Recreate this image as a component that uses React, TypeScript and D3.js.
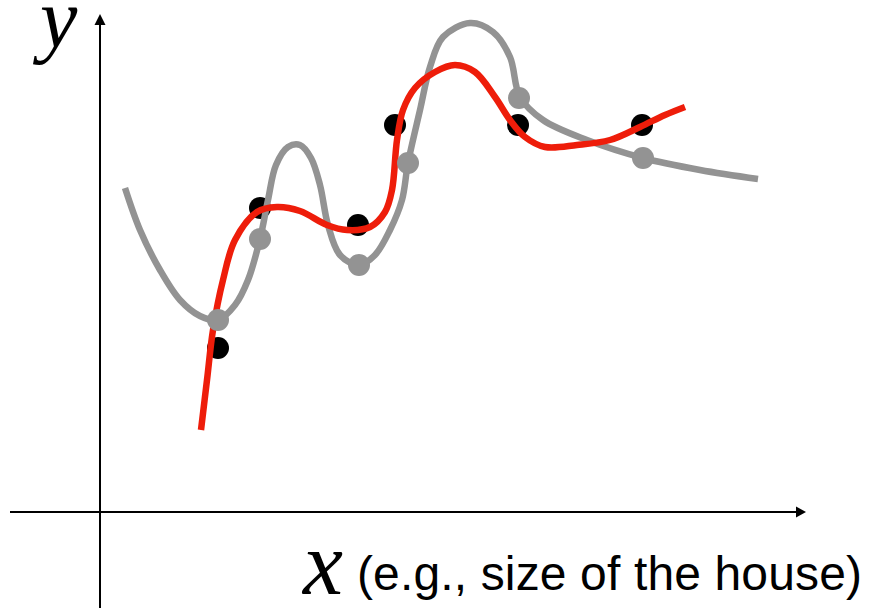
import { useEffect, useRef } from "react";
import * as d3 from "d3";

// values are in "picture units": x measured from the y axis, y measured up from the x axis
const dataX = [118, 160, 258, 295, 418, 542];
const dataY = [164, 304, 287, 387, 387, 387];

const fitX = [118, 160, 259, 308, 419, 543];
const fitY = [192, 273, 247, 349, 414, 354];

const smoothX = [101, 107, 113, 123, 135, 157, 177, 200, 227, 247, 270, 285, 292, 297, 303, 315, 335, 355, 375, 395, 410, 425, 445, 477, 510, 540, 565, 585];
const smoothY = [82, 132, 182, 232, 272, 300, 305, 301, 287, 282, 285, 300, 322, 372, 402, 424, 440, 447, 440, 415, 392, 375, 365, 367, 372, 385, 397, 405];

const wigglyX = [25, 40, 60, 80, 100, 118, 135, 148, 160, 168, 176, 188, 200, 211, 220, 228, 240, 259, 275, 290, 302, 308, 320, 330, 343, 370, 393, 410, 420, 443, 487, 543, 600, 658];
const wigglyY = [324, 282, 242, 212, 196, 192, 207, 232, 273, 312, 347, 365, 367, 354, 327, 287, 257, 247, 257, 282, 312, 349, 402, 445, 475, 489, 480, 455, 415, 392, 372, 354, 342, 333];

const App = () => {
  const svgRef = useRef(null);

  useEffect(() => {
    const WIDTH = 873;
    const HEIGHT = 608;
    const ORIGIN = { x: 100, y: 512 };

    const x = d3.scaleLinear().domain([0, 700]).range([ORIGIN.x, ORIGIN.x + 700]);
    const y = d3.scaleLinear().domain([0, 500]).range([ORIGIN.y, ORIGIN.y - 500]);

    const svg = d3.select(svgRef.current).attr("width", WIDTH).attr("height", HEIGHT);
    svg.selectAll("*").remove();

    // axes
    svg.append("line")
      .attr("x1", x(-90)).attr("x2", x(697))
      .attr("y1", y(0)).attr("y2", y(0))
      .attr("stroke", "#000").attr("stroke-width", 2);
    svg.append("path")
      .attr("d", `M${x(706)},${y(0)}L${x(696)},${y(0) - 5.5}L${x(696)},${y(0) + 5.5}Z`)
      .attr("fill", "#000");

    svg.append("line")
      .attr("x1", x(0)).attr("x2", x(0))
      .attr("y1", y(-100)).attr("y2", y(488))
      .attr("stroke", "#000").attr("stroke-width", 2);
    svg.append("path")
      .attr("d", `M${x(0)},${y(498)}L${x(0) - 5.5},${y(487)}L${x(0) + 5.5},${y(487)}Z`)
      .attr("fill", "#000");

    const line = d3.line()
      .x((d) => x(d[0]))
      .y((d) => y(d[1]))
      .curve(d3.curveCatmullRom.alpha(0.5));

    svg.append("g").selectAll(".data")
      .data(dataX.map((v, i) => [v, dataY[i]]))
      .enter()
      .append("circle")
      .attr("cx", (d) => x(d[0]))
      .attr("cy", (d) => y(d[1]))
      .attr("r", 11)
      .attr("fill", "#000");

    svg.append("path")
      .attr("d", line(wigglyX.map((v, i) => [v, wigglyY[i]])))
      .attr("fill", "none")
      .attr("stroke", "#939393")
      .attr("stroke-width", 6.5);

    svg.append("path")
      .attr("d", line(smoothX.map((v, i) => [v, smoothY[i]])))
      .attr("fill", "none")
      .attr("stroke", "#ee1d0a")
      .attr("stroke-width", 6.5);

    svg.append("g").selectAll(".fit")
      .data(fitX.map((v, i) => [v, fitY[i]]))
      .enter()
      .append("circle")
      .attr("cx", (d) => x(d[0]))
      .attr("cy", (d) => y(d[1]))
      .attr("r", 11)
      .attr("fill", "#939393");

    // labels
    svg.append("text")
      .attr("x", 40).attr("y", 47)
      .attr("font-family", "Liberation Serif")
      .attr("font-style", "italic")
      .attr("font-size", 84)
      .text("y");

    svg.append("text")
      .attr("x", 303).attr("y", 594)
      .attr("font-family", "Liberation Serif")
      .attr("font-style", "italic")
      .attr("font-size", 90)
      .text("x");

    svg.append("text")
      .attr("x", 357).attr("y", 590)
      .attr("font-family", "Liberation Sans")
      .attr("font-size", 48)
      .attr("textLength", 505)
      .text("(e.g., size of the house)");
  }, []);

  return <svg ref={svgRef} style={{ position: "absolute", left: 0, top: 0 }} />;
};

export default App;
